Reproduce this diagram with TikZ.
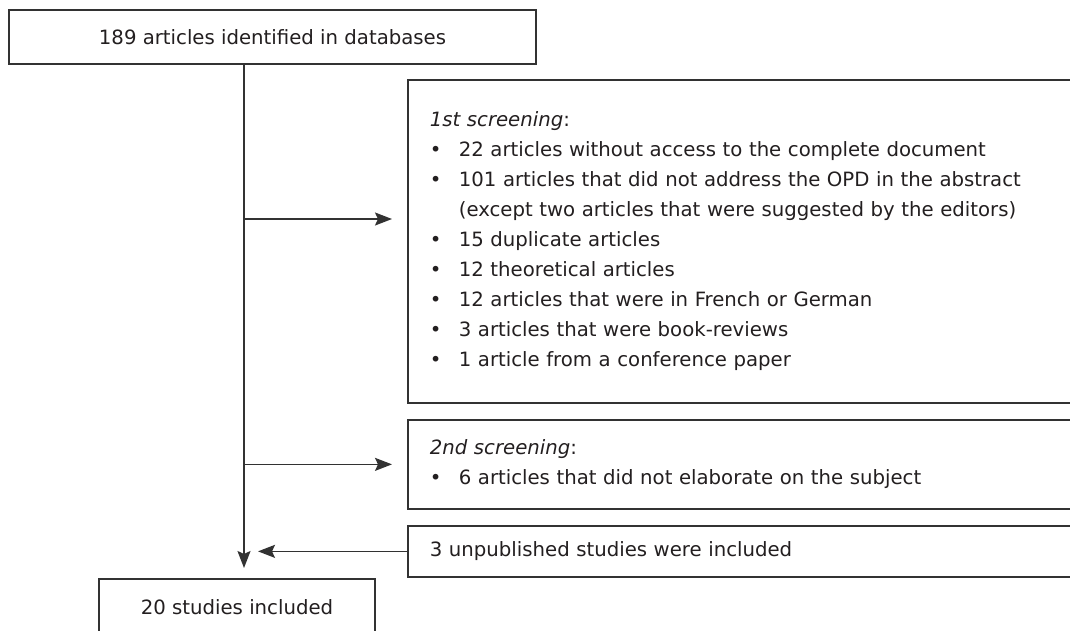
\documentclass[tikz,border=0pt]{standalone}
\usepackage{fontspec}
\setmainfont{DejaVu Sans}
\usetikzlibrary{arrows.meta,calc}
\definecolor{linec}{RGB}{50,50,50}
\definecolor{txt}{RGB}{35,31,32}
\begin{document}
\begin{tikzpicture}[x=1pt,y=-1pt,
  box/.style={draw=linec, line width=1.7pt, rectangle, inner sep=0pt, text=txt,
    font=\fontsize{19.7}{30}\selectfont},
  arr/.style={draw=linec, line width=1.7pt, -{Stealth[length=17pt,width=13pt,inset=3pt]}}]
\clip (0,0) rectangle (1070,630);
\fill[white] (0,0) rectangle (1070,630);
\node[box, minimum width=527, minimum height=54] (top) at (272.5,37) {189 articles identified in databases};
\node[box, anchor=north west, minimum width=680, minimum height=323, text width=636, align=left, inner xsep=22] (s1) at (407,79) {%
\textit{1st screening}:\\
\makebox[29pt][l]{•}22 articles without access to the complete document\\
\makebox[29pt][l]{•}101 articles that did not address the OPD in the abstract\\
\hspace*{29pt}(except two articles that were suggested by the editors)\\
\makebox[29pt][l]{•}15 duplicate articles\\
\makebox[29pt][l]{•}12 theoretical articles\\
\makebox[29pt][l]{•}12 articles that were in French or German\\
\makebox[29pt][l]{•}3 articles that were book-reviews\\
\makebox[29pt][l]{•}1 article from a conference paper};
\node[box, anchor=north west, minimum width=680, minimum height=89, text width=636, align=left, inner xsep=22] (s2) at (407,419) {%
\textit{2nd screening}:\\
\makebox[29pt][l]{•}6 articles that did not elaborate on the subject};
\node[box, anchor=north west, minimum width=680, minimum height=51, text width=636, align=left, inner xsep=22] (s3) at (407,525) {3 unpublished studies were included};
\node[box, minimum width=276, minimum height=56] (bot) at (237,607) {20 studies included};
\coordinate (vend) at (244,568);
\coordinate (j1) at (244,219);
\draw[arr] (top.south -| vend) -- (vend);
\draw[arr, shorten >=15pt] (j1) -- (j1 -| s1.west);
\draw[arr, shorten >=15pt] (s2.west -| vend) -- (s2.west);
\draw[arr, shorten >=14pt] (s3.west) -- (s3.west -| vend);
\end{tikzpicture}
\end{document}
